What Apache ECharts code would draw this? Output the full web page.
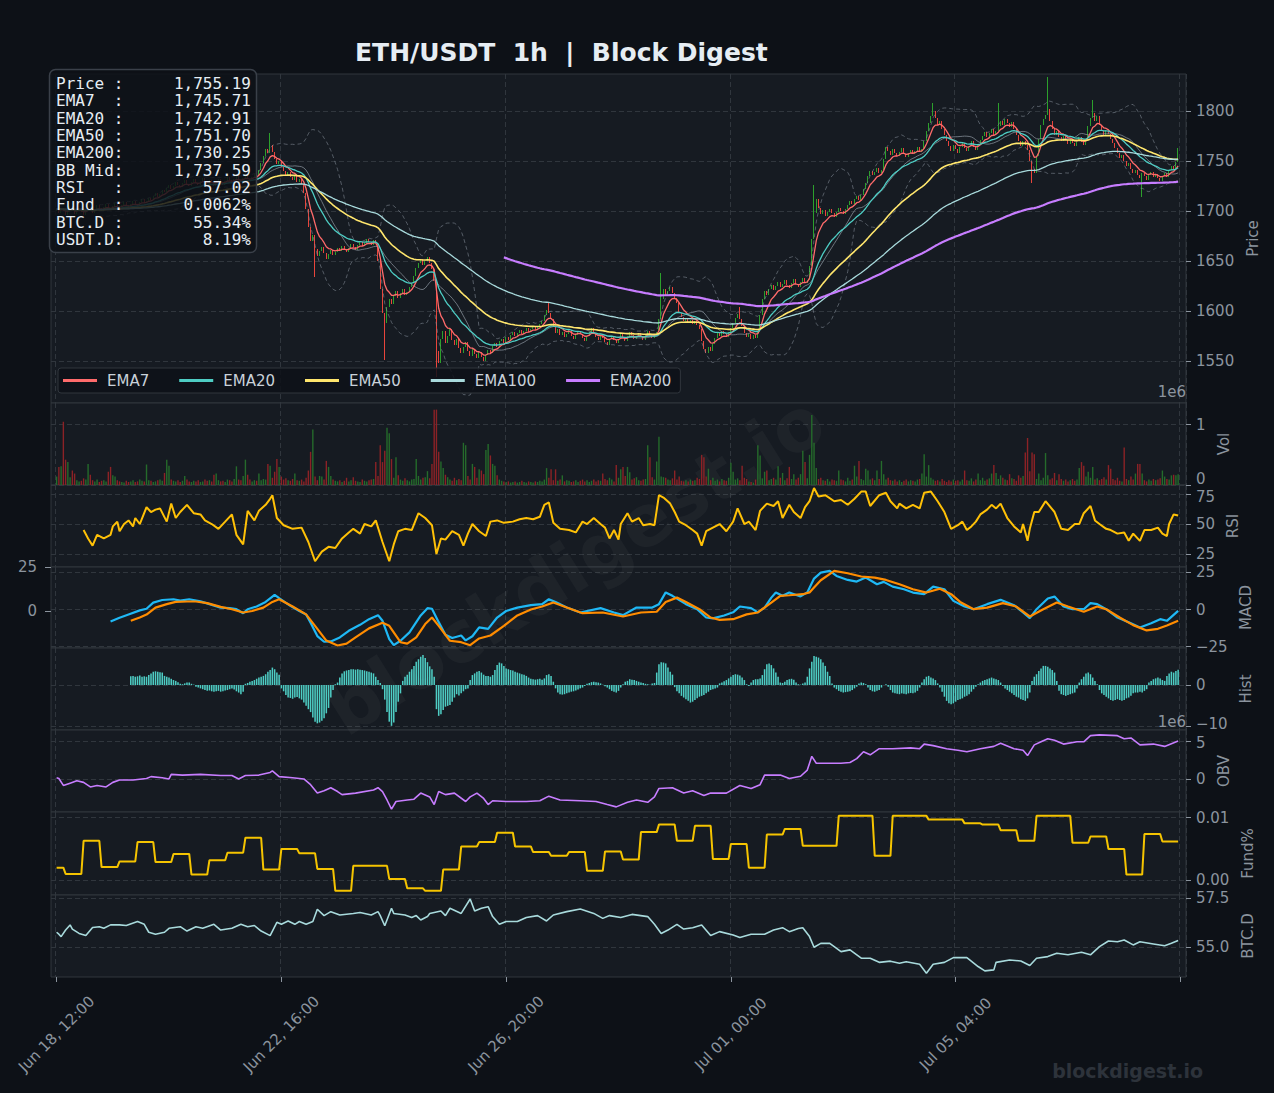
<!DOCTYPE html>
<html>
<head>
<meta charset="utf-8">
<title>ETH/USDT 1h | Block Digest</title>
<script src="https://cdn.jsdelivr.net/npm/echarts@6/dist/echarts.min.js"></script>
<style>
  html, body { margin: 0; padding: 0; background: #0d1117; }
  #chart { width: 1274px; height: 1093px; }
</style>
</head>
<body>
<div id="chart"></div>
<script>
// ---- data (1h candles from Jun 18 12:00, index = hour) ----
var closes = [
  1702,1698,1703,1700,1696,1699,1705,1701,1697,1700,
  1703,1699,1696,1700,1704,1701,1698,1702,1706,1703,
  1700,1704,1707,1703,1701,1705,1708,1704,1702,1706,
  1709,1706,1703,1707,1710,1707,1705,1709,1712,1708,
  1710,1713,1711,1715,1718,1714,1717,1721,1719,1723,
  1726,1722,1725,1729,1726,1724,1728,1731,1727,1725,
  1729,1732,1728,1726,1730,1733,1729,1727,1731,1728,
  1725,1729,1732,1728,1726,1730,1734,1731,1728,1732,
  1735,1731,1729,1733,1736,1732,1730,1734,1737,1735,
  1741,1748,1755,1762,1758,1766,1759,1752,1747,1750,
  1744,1740,1736,1739,1734,1731,1735,1729,1732,1727,
  1718,1702,1684,1670,1676,1662,1655,1660,1664,1658,
  1652,1657,1661,1656,1659,1663,1660,1665,1662,1659,
  1663,1667,1664,1661,1666,1669,1665,1668,1672,1669,
  1666,1671,1668,1650,1622,1598,1588,1604,1612,1607,
  1615,1620,1613,1618,1622,1616,1619,1624,1628,1635,
  1643,1648,1652,1646,1650,1654,1648,1642,1630,1560,
  1548,1572,1580,1568,1575,1582,1571,1566,1572,1563,
  1558,1564,1569,1560,1555,1562,1557,1553,1559,1554,
  1550,1556,1561,1558,1565,1568,1564,1570,1572,1568,
  1574,1571,1576,1579,1575,1578,1581,1577,1580,1583,
  1579,1582,1585,1581,1584,1587,1590,1596,1601,1598,
  1592,1584,1578,1582,1576,1579,1574,1577,1581,1575,
  1572,1576,1580,1577,1573,1570,1575,1579,1583,1578,
  1574,1571,1576,1573,1569,1566,1572,1575,1571,1568,
  1572,1577,1574,1570,1575,1579,1576,1572,1575,1578,
  1574,1571,1576,1580,1577,1573,1576,1579,1592,1612,
  1622,1616,1620,1624,1618,1613,1608,1598,1594,1590,
  1593,1588,1591,1587,1590,1586,1582,1570,1562,1558,
  1564,1560,1567,1573,1578,1575,1580,1577,1574,1579,
  1583,1588,1593,1597,1592,1585,1578,1574,1577,1572,
  1576,1573,1579,1596,1612,1620,1616,1622,1626,1621,
  1625,1629,1624,1627,1631,1626,1623,1628,1632,1627,
  1624,1629,1633,1628,1631,1645,1672,1698,1712,1703,
  1697,1701,1695,1699,1702,1698,1694,1699,1703,1700,
  1697,1702,1706,1710,1707,1712,1715,1711,1716,1722,
  1728,1735,1740,1736,1739,1743,1738,1741,1752,1764,
  1760,1756,1762,1758,1755,1759,1763,1757,1754,1758,
  1761,1757,1760,1764,1759,1762,1770,1780,1788,1795,
  1800,1793,1786,1790,1782,1776,1770,1765,1760,1766,
  1762,1758,1764,1768,1763,1760,1765,1770,1764,1761,
  1766,1771,1775,1779,1774,1778,1782,1776,1780,1785,
  1790,1786,1792,1788,1784,1789,1782,1776,1770,1765,
  1770,1766,1761,1750,1742,1738,1755,1772,1786,1792,
  1796,1802,1790,1782,1776,1780,1774,1770,1775,1771,
  1767,1772,1768,1765,1770,1774,1769,1766,1772,1785,
  1793,1798,1790,1795,1786,1780,1776,1781,1777,1772,
  1768,1763,1758,1753,1756,1750,1745,1748,1742,1738,
  1741,1736,1733,1738,1735,1731,1736,1739,1734,1737,
  1733,1730,1735,1738,1734,1741,1745,1742,1749,1755.19
];
var firstOpen = 1700;
var wickHighs = [[95,1778],[219,1608],[269,1638],[304,1604],[337,1726],[390,1808],[419,1808],[441,1834],[461,1811],[499,1763]];
var wickLows = [[115,1634],[146,1551],[169,1534],[434,1728],[483,1714]];

// volume, units of 10k
var volumes = [
  14,30,31,105,42,38,13,24,19,8,
  6,7,11,9,35,17,8,6,9,5,
  7,8,6,22,30,16,14,8,6,5,
  4,7,5,6,8,5,6,9,7,6,
  34,8,7,5,6,8,9,7,20,42,
  32,9,7,6,8,5,7,15,9,6,
  5,7,6,8,5,6,9,7,8,6,
  17,19,8,6,7,5,9,8,6,10,
  31,9,8,15,42,17,9,6,8,7,
  19,8,10,9,35,32,12,22,43,30,
  14,9,11,8,7,10,19,8,7,9,
  6,12,24,55,92,14,8,15,14,9,
  40,30,15,9,7,6,8,5,7,12,
  6,8,13,7,6,5,9,7,6,8,
  9,10,38,15,66,38,57,95,86,43,
  12,46,16,9,7,11,8,6,9,10,
  43,15,9,12,13,23,11,35,125,125,
  55,39,28,17,13,9,7,12,8,10,
  8,70,66,15,9,35,30,12,26,24,
  18,58,68,49,35,32,16,9,7,6,
  5,6,4,5,6,4,5,7,5,4,
  6,5,4,6,5,7,6,9,28,12,
  26,8,26,7,9,16,6,8,7,5,
  6,8,5,7,9,6,8,5,7,9,
  6,8,7,19,10,8,12,9,6,33,
  12,26,30,15,30,21,9,11,13,8,
  7,9,10,66,46,13,9,39,80,14,
  13,12,9,8,11,24,9,14,7,6,
  8,6,9,7,8,12,10,50,46,14,
  27,8,12,7,9,6,10,8,7,12,
  37,22,9,11,8,32,12,10,6,5,
  4,9,66,49,11,22,24,8,10,12,
  9,31,12,20,8,11,30,10,18,9,
  12,18,57,38,11,50,116,70,28,10,
  12,8,7,10,6,9,8,7,24,9,
  8,6,12,7,9,32,14,40,10,8,
  27,24,9,11,8,24,10,40,18,9,
  12,8,7,9,6,8,5,7,9,6,
  8,7,6,9,10,19,51,14,33,12,
  9,7,8,6,10,7,5,8,6,9,
  7,8,6,9,24,8,7,11,6,9,
  19,8,12,7,9,11,19,33,20,10,
  16,12,9,8,18,11,10,7,16,12,
  15,54,78,23,54,51,10,19,8,12,
  53,16,9,11,20,8,18,10,7,9,
  6,8,10,7,9,28,38,32,14,22,
  12,30,9,11,8,10,13,9,33,27,
  10,8,12,7,6,62,10,8,14,9,
  19,35,35,19,8,6,9,7,10,8,
  9,11,24,14,10,9,16,17,16,18
];

// [hour, value] readings
var rsiPts = [[12,45],[14,38],[16,32],[18,41],[21,38],[24,41],[25,48],[27,52],[28,44],[30,50],[32,53],[34,48],[35,55],[37,50],[40,64],[42,60],[44,62],[46,63],[49,52],[51,67],[53,55],[55,60],[58,66],[61,59],[64,58],[66,53],[69,50],[72,46],[75,52],[78,58],[80,41],[83,33],[85,61],[88,53],[90,61],[93,66],[95,71],[96,74],[98,55],[101,49],[105,46],[109,47],[112,35],[115,19],[118,27],[121,31],[124,30],[127,38],[130,43],[132,46],[135,42],[137,50],[140,48],[142,53],[145,35],[148,19],[150,33],[152,44],[155,46],[158,45],[161,59],[164,55],[167,49],[169,25],[171,38],[173,37],[176,44],[179,41],[181,32],[183,42],[185,50],[188,44],[191,40],[193,52],[196,53],[199,51],[203,52],[206,54],[209,55],[212,54],[215,56],[217,66],[219,68],[221,51],[224,46],[228,45],[231,43],[234,52],[236,50],[239,55],[242,50],[244,47],[246,38],[248,45],[250,37],[251,50],[254,59],[256,52],[259,55],[261,49],[264,50],[266,49],[268,74],[270,72],[273,67],[275,60],[277,52],[280,49],[283,45],[285,42],[287,32],[289,44],[292,47],[295,50],[298,44],[301,52],[303,63],[306,50],[308,52],[311,45],[313,61],[316,67],[319,65],[321,69],[323,55],[326,66],[328,60],[331,55],[333,64],[335,69],[337,80],[339,73],[342,74],[346,69],[349,70],[352,66],[355,71],[358,77],[360,77],[362,65],[366,74],[369,76],[371,69],[374,63],[375,67],[378,63],[381,66],[384,63],[386,76],[389,77],[392,69],[395,60],[398,46],[401,49],[403,52],[405,45],[407,48],[409,52],[411,58],[414,62],[416,66],[418,63],[420,67],[423,55],[426,48],[429,43],[430,50],[432,36],[433,46],[435,60],[437,60],[440,69],[444,60],[447,46],[450,45],[453,50],[455,50],[457,59],[460,65],[462,53],[464,50],[467,46],[469,45],[472,42],[475,43],[477,36],[479,42],[482,36],[484,45],[487,45],[490,47],[492,42],[494,40],[495,50],[497,58],[499,57.02]];

var macdPts = [[24,-8],[28,-5.5],[32,-3.3],[37,-0.6],[40,0.5],[43,4.6],[47,6.4],[52,6.9],[55,6],[59,6.9],[64,5.5],[68,3.6],[73,1.3],[77,0.9],[80,0.2],[83,-2.5],[85,0.2],[89,2],[93,5.1],[97,9.8],[99,7.6],[104,2.5],[108,-1],[111,-3.3],[113,-8.9],[116,-17.9],[119,-21.7],[122,-21.5],[126,-18.8],[130,-14.3],[135,-10.3],[139,-6.5],[143,-3.8],[145,-7.6],[148,-19.9],[150,-24],[153,-21],[157,-15.4],[162,-4],[165,0.9],[167,0.5],[170,-8.5],[173,-17],[176,-19.2],[180,-17.5],[182,-20.8],[185,-18],[188,-12],[192,-13],[196,-5.4],[200,-1],[205,1.3],[211,2.9],[216,3.6],[219,6.9],[222,5.1],[227,1.3],[233,-2],[242,0.9],[248,-2],[252,-3.8],[258,1.3],[265,1.3],[268,3.6],[271,11.5],[274,9.2],[280,3.6],[285,0.2],[289,-5.4],[292,-6],[297,-4],[301,-1.9],[304,2],[309,0.9],[312,-1.9],[315,1.3],[318,8],[320,11.5],[323,9.2],[326,11.5],[331,8.8],[334,11.5],[337,20.8],[340,24.8],[344,26],[347,22.6],[352,19.9],[356,18.8],[360,21.5],[365,17],[368,18.6],[372,15.4],[377,13.6],[381,11.4],[386,10.3],[390,15.4],[395,13.6],[399,5.8],[404,2],[408,0.2],[414,3.6],[420,6.5],[426,2.9],[430,-2],[433,-5.8],[436,0.2],[441,7.4],[444,8.7],[448,2],[452,0.2],[457,0.2],[460,4.3],[463,3.6],[467,0.2],[472,-5.4],[478,-9.2],[482,-12.1],[487,-9.2],[491,-6.5],[494,-7.6],[499,-0.9]];

var signalPts = [[33,-7.6],[37,-5.4],[40,-3.4],[44,1.3],[49,3.6],[53,5.1],[58,5.4],[62,5.4],[67,4.3],[73,1.8],[78,0.2],[83,-2],[87,-1],[92,1.3],[96,5.1],[99,6.9],[105,2],[111,-3.3],[116,-13],[120,-20.9],[125,-24.2],[129,-23],[133,-18.8],[139,-12.7],[145,-8.9],[148,-11],[153,-22],[156,-23],[160,-18.8],[164,-9.8],[167,-5.4],[170,-11],[175,-21],[180,-22],[184,-24],[188,-19.5],[193,-17.5],[199,-11],[205,-4],[211,0],[216,2],[221,4.7],[227,1.3],[234,-2.5],[243,-2],[252,-4.7],[260,-2],[267,-1.5],[271,5.1],[276,8],[280,5.1],[286,0.2],[291,-5.4],[295,-7],[301,-6.5],[307,-3.3],[312,-2],[318,4.7],[322,9.2],[326,9.6],[332,10.3],[335,11.5],[337,14.8],[340,19.7],[346,26],[352,24.4],[358,22.2],[364,21.5],[369,19.9],[375,17],[381,13.6],[387,11.4],[393,14],[398,10.3],[402,5.1],[408,0.2],[414,1.3],[421,4.3],[427,2],[433,-4.7],[439,0.2],[445,4.7],[450,2],[457,-1.5],[463,2],[467,0.2],[473,-5.4],[479,-10.5],[485,-14.1],[490,-13],[494,-10.8],[499,-7.6]];

// MACD histogram, hourly from hour 33
var histStart = 33;
var hist = [
  2.1,2.2,2.0,2.1,2.3,2.0,2.1,
  2.0,2.4,2.8,3.2,3.3,3.2,3.1,3.0,2.2,2.0,
  1.8,1.5,1.2,1.0,0.7,0.3,0.2,0.4,0.6,0.6,
  0.3,0.1,-0.4,-0.6,-0.8,-1.0,-1.2,-1.4,-1.3,-1.5,
  -1.6,-1.5,-1.4,-1.6,-1.5,-1.3,-1.2,-1.0,-0.8,-1.1,
  -1.5,-1.8,-2.2,-1.6,0.3,0.5,0.8,1.0,1.2,1.5,
  1.8,2.0,2.2,2.6,3.2,3.6,4.2,3.8,3.0,2.5,
  -0.8,-1.5,-2.4,-3.0,-3.1,-3.3,-3.0,-2.9,-3.2,-3.5,
  -4.2,-5.0,-5.8,-6.5,-7.8,-8.8,-9.2,-9.0,-8.6,-8.0,
  -6.8,-5.5,-3.0,-1.2,0.2,0.6,1.8,2.8,3.3,3.5,
  3.6,3.8,3.8,3.7,3.8,3.7,3.6,3.5,3.3,3.2,
  3.0,2.8,2.0,1.2,0.5,-1.0,-3.5,-6.5,-8.8,-9.8,
  -9.0,-6.5,-4.0,-2.0,1.0,2.0,2.5,3.2,3.8,4.6,
  5.6,6.2,6.8,7.2,6.5,5.5,4.5,3.8,2.0,-5.8,
  -7.4,-7.0,-6.0,-5.2,-5.0,-4.8,-4.0,-3.0,-2.2,-2.5,
  -2.0,-1.5,-1.0,-0.8,1.2,2.4,2.8,3.2,3.4,3.0,
  2.5,2.2,2.2,2.0,2.4,3.6,4.8,5.4,5.2,4.6,
  4.0,3.8,3.6,3.5,3.2,3.0,2.8,2.6,2.5,2.2,
  1.8,1.5,1.4,1.3,1.4,1.5,1.3,1.6,2.4,2.6,
  2.2,0.8,-0.8,-1.8,-2.2,-2.3,-2.2,-2.0,-1.8,-1.6,
  -1.5,-1.3,-1.1,-0.8,-0.6,-0.2,0.3,0.5,0.7,0.8,
  0.7,0.6,0.4,0.1,-0.3,-0.6,-1.0,-1.4,-1.6,-1.8,
  -1.4,-0.6,0.2,0.8,1.0,1.4,1.3,1.2,1.0,0.8,
  0.6,0.5,0.3,0.2,0.1,0.4,0.5,3.0,5.0,5.5,
  5.4,5.2,4.2,3.2,2.5,-0.5,-1.5,-2.0,-2.6,-3.0,
  -3.4,-3.8,-4.2,-4.0,-3.6,-3.2,-2.8,-2.6,-2.4,-2.0,
  -1.6,-1.2,-1.0,-0.8,-0.6,0.4,0.6,0.9,1.2,1.6,
  2.0,2.4,2.6,2.5,2.3,1.8,1.2,0.2,-0.2,0.6,
  1.2,1.4,1.4,1.6,2.4,3.8,5.0,5.2,4.8,4.0,
  3.0,2.0,0.6,0.5,0.8,1.2,1.4,1.5,1.3,0.6,
  0.2,0.1,0.4,0.6,2.0,4.0,5.6,7.0,6.8,6.6,
  6.2,5.4,4.6,3.2,2.2,0.4,-0.6,-1.0,-1.4,-1.6,
  -1.8,-1.7,-1.6,-1.5,-1.2,-0.8,-0.4,0.4,0.6,0.5,
  0.2,-0.6,-1.2,-1.5,-1.6,-1.4,-1.2,-0.6,0.0,0.2,
  -0.4,-1.2,-1.8,-2.0,-2.1,-2.2,-2.0,-2.1,-2.2,-2.0,
  -1.9,-2.0,-1.8,-1.4,-0.6,0.6,1.4,2.0,2.2,1.8,
  1.6,1.2,0.4,-0.6,-1.6,-2.8,-3.8,-4.4,-4.6,-4.4,
  -4.0,-3.6,-3.4,-3.2,-2.8,-2.6,-2.2,-1.6,-1.0,-0.4,
  0.2,0.6,1.0,1.2,1.4,1.6,1.8,1.6,1.4,1.2,
  0.6,-0.2,-0.8,-1.2,-1.6,-2.0,-2.4,-2.8,-3.0,-3.4,
  -3.6,-3.8,-3.2,-1.8,1.0,2.0,2.6,3.4,4.0,4.6,
  4.6,4.4,4.0,3.6,3.0,1.0,-1.4,-2.2,-2.4,-2.6,
  -2.4,-2.2,-2.0,-1.8,-0.8,0.6,1.4,2.0,2.8,3.0,
  2.6,1.8,1.0,0.2,-1.2,-2.0,-2.4,-2.8,-3.2,-3.6,
  -3.8,-3.6,-3.4,-3.6,-3.8,-3.6,-3.2,-3.0,-2.6,-2.0,
  -1.8,-1.8,-1.6,-1.8,-1.4,-1.0,0.6,1.0,1.4,1.6,
  1.8,1.6,1.2,1.0,2.2,2.8,3.2,3.0,3.4,3.7
];

// OBV in millions
var obvPts = [[0,0.2],[1,0.1],[3,-0.8],[6,-0.5],[9,-0.2],[12,-0.4],[15,-1],[18,-0.8],[22,-1],[25,-0.4],[28,-0.1],[34,-0.1],[40,0.1],[42,0.35],[47,0.2],[50,0.05],[51,0.65],[56,0.55],[64,0.65],[73,0.5],[78,0.5],[81,0.05],[84,0.5],[90,0.55],[95,0.9],[96,1.1],[99,0.35],[105,0.2],[110,0.05],[113,-0.7],[116,-1.8],[119,-1.5],[122,-1.1],[125,-1.6],[127,-2],[133,-1.8],[141,-1.4],[143,-1.1],[145,-1.6],[147,-2.7],[149,-3.9],[151,-2.9],[156,-2.7],[159,-2.6],[162,-1.8],[166,-2.3],[168,-3.3],[170,-1.6],[173,-2],[177,-1.8],[182,-2.9],[184,-2.3],[187,-1.8],[190,-2.5],[192,-3.3],[194,-2.8],[200,-2.9],[209,-2.9],[215,-2.8],[219,-2.2],[224,-2.7],[233,-2.8],[240,-2.9],[245,-3.3],[249,-3.6],[254,-3],[258,-2.7],[263,-3],[266,-2.3],[268,-1.2],[274,-1.1],[279,-1.8],[283,-1.5],[288,-2.1],[291,-1.8],[298,-1.8],[304,-0.8],[309,-1.2],[313,-0.7],[315,0.55],[322,0.55],[326,0.1],[331,0.4],[334,1.2],[336,3],[338,2.1],[343,2.1],[349,2.1],[353,2.2],[356,2.7],[359,3.6],[362,3.2],[366,4],[372,4],[380,4.1],[384,4],[386,4.6],[390,4.4],[396,4],[401,3.8],[405,3.6],[411,4],[417,4.3],[420,4.7],[426,4],[430,3.8],[432,3.1],[435,4.5],[438,4.9],[441,5.3],[444,5.1],[448,4.6],[454,4.9],[457,4.9],[460,5.7],[464,5.8],[472,5.7],[475,5.3],[478,5.4],[482,4.5],[488,4.6],[493,4.3],[499,5]];

// funding rate (%), [start hour, value] steps
var fundSteps = [[0,0.0020],[4,0.0010],[12,0.0063],[20,0.0021],[28,0.0030],[36,0.0061],[44,0.0029],[52,0.0042],[60,0.0009],[68,0.0032],[76,0.0044],[84,0.0068],[92,0.0017],[100,0.0050],[108,0.0043],[116,0.0018],[124,-0.0017],[132,0.0023],[148,0.0002],[156,-0.0013],[164,-0.0017],[172,0.0017],[180,0.0054],[188,0.0061],[196,0.0076],[204,0.0054],[212,0.0045],[220,0.0039],[228,0.0045],[236,0.0015],[244,0.0046],[252,0.0033],[260,0.0077],[268,0.0089],[276,0.0063],[284,0.0087],[292,0.0034],[300,0.0058],[308,0.0020],[316,0.0073],[324,0.0082],[332,0.0055],[348,0.0103],[364,0.0039],[372,0.0103],[388,0.0097],[404,0.0091],[412,0.0089],[420,0.0080],[428,0.0063],[436,0.0103],[452,0.0060],[460,0.0070],[468,0.0050],[476,0.0009],[484,0.0074],[492,0.0062]];

var btcPts = [[0,55.76],[1,55.66],[2,55.54],[4,55.87],[6,56.13],[7,55.92],[10,55.7],[13,55.59],[16,56],[19,56.04],[21,55.96],[24,56.13],[28,56.13],[31,56.1],[36,56.3],[39,56.16],[41,55.76],[44,55.66],[48,55.76],[50,55.96],[55,56.04],[58,55.82],[62,56.04],[65,55.96],[70,56.16],[73,55.87],[78,55.96],[82,56.16],[85,56.04],[88,56.1],[91,55.82],[95,55.59],[98,56.26],[100,56.16],[103,56.33],[106,56.16],[108,56.3],[111,56.16],[114,56.3],[116,56.92],[119,56.6],[122,56.8],[126,56.63],[132,56.71],[135,56.76],[140,56.63],[143,56.8],[144,56.6],[146,56.09],[149,56.97],[150,56.71],[155,56.63],[158,56.5],[160,56.6],[162,56.38],[165,56.55],[166,56.71],[171,56.83],[173,56.6],[175,56.97],[180,56.71],[184,57.44],[186,56.83],[189,56.97],[192,57.05],[194,56.55],[197,56.16],[200,56.3],[205,56.3],[209,56.5],[214,56.6],[218,56.33],[221,56.63],[227,56.8],[233,56.93],[239,56.71],[243,56.46],[246,56.6],[251,56.5],[256,56.66],[263,56.55],[266,56.16],[269,55.7],[272,55.87],[276,56.16],[279,55.92],[283,55.99],[287,56.13],[291,55.59],[295,55.79],[301,55.62],[304,55.49],[309,55.66],[315,55.66],[319,55.87],[323,55.99],[326,55.79],[330,55.95],[332,55.99],[335,55.54],[337,55.0],[340,55.2],[344,55.2],[349,54.78],[353,54.87],[358,54.45],[362,54.45],[366,54.24],[371,54.3],[375,54.19],[378,54.27],[384,54.14],[387,53.69],[390,54.14],[395,54.24],[399,54.48],[405,54.48],[410,54.03],[413,53.81],[417,53.86],[418,54.24],[424,54.36],[429,54.31],[433,54.08],[436,54.45],[441,54.53],[445,54.7],[450,54.62],[456,54.75],[460,54.62],[464,55.03],[468,55.32],[472,55.28],[475,55.37],[479,55.12],[482,55.28],[488,55.17],[493,55.08],[496,55.2],[499,55.34]];

var infoRows = [
  ['Price :', '1,755.19'], ['EMA7  :', '1,745.71'], ['EMA20 :', '1,742.91'],
  ['EMA50 :', '1,751.70'], ['EMA200:', '1,730.25'], ['BB Mid:', '1,737.59'],
  ['RSI   :', '57.02'], ['Fund  :', '0.0062%'], ['BTC.D :', '55.34%'], ['USDT.D:', '8.19%']
];

var xTickHours = [0, 100, 200, 300, 400, 500];
var xLabelHours = [0, 100, 200, 300, 400];
var priceTicks = [1550, 1600, 1650, 1700, 1750, 1800];
var volTicks = [0, 100];
var rsiTicks = [25, 50, 75];
var macdTicks = [-25, 0, 25];
var macdLeftTicks = [0, 25];
var histTicks = [-10, 0];
var obvTicks = [0, 5];
var fundTicks = [0, 0.01];
var btcTicks = [55, 57.5];

// ---- layout ----
var PAD = 2, NCAT = 505;
var FONT = 'DejaVu Sans';
var GRID_COLOR = '#30363d';
var TXT = '#8b949e';
var UP = '#2ca02c', DOWN = '#e8453c';
var UP_VOL = '#256b2b', DOWN_VOL = '#8c2226';
var emaDefs = [
  { name: 'EMA7', n: 7, color: '#ff6b6b', width: 1.3 },
  { name: 'EMA20', n: 20, color: '#4ecdc4', width: 1.3 },
  { name: 'EMA50', n: 50, color: '#ffe66d', width: 1.6 },
  { name: 'EMA100', n: 100, color: '#a8dadc', width: 1.3 },
  { name: 'EMA200', n: 200, color: '#c77dff', width: 2.2 }
];

var months = ['Jan','Feb','Mar','Apr','May','Jun','Jul','Aug','Sep','Oct','Nov','Dec'];
function pad2(n) { return (n < 10 ? '0' : '') + n; }
var t0 = Date.UTC(2023, 5, 18, 12);
var categories = [];
for (var i = 0; i < NCAT; i++) {
  var d = new Date(t0 + (i - PAD) * 3600000);
  categories.push(months[d.getUTCMonth()] + ' ' + pad2(d.getUTCDate()) + ', ' + pad2(d.getUTCHours()) + ':00');
}
function xi(h) { return h + PAD; }

// candles
var opens = closes.map(function (c, h) { return h === 0 ? firstOpen : closes[h - 1]; });
var candleData = closes.map(function (c, h) {
  var o = opens[h];
  var hi = Math.max(o, c), lo = Math.min(o, c);
  wickHighs.forEach(function (w) { if (w[0] === h) hi = Math.max(hi, w[1]); });
  wickLows.forEach(function (w) { if (w[0] === h) lo = Math.min(lo, w[1]); });
  return [xi(h), o, c, lo, hi];
});

function ema(src, n) {
  var k = 2 / (n + 1), out = [], prev = src[0];
  for (var i = 0; i < src.length; i++) {
    prev = i === 0 ? src[0] : src[i] * k + prev * (1 - k);
    out.push(prev);
  }
  return out;
}
var bbMid = [], bbUp = [], bbLo = [];
for (var h = 19; h < closes.length; h++) {
  var win = closes.slice(h - 19, h + 1);
  var m = win.reduce(function (a, b) { return a + b; }, 0) / 20;
  var v = win.reduce(function (a, b) { return a + (b - m) * (b - m); }, 0) / 19;
  var s = Math.sqrt(v);
  bbMid.push([xi(h), m]); bbUp.push([xi(h), m + 2 * s]); bbLo.push([xi(h), m - 2 * s]);
}

function pts(arr) { return arr.map(function (p) { return [xi(p[0]), p[1]]; }); }

var fundData = [];
fundSteps.forEach(function (st, k) {
  var end = k + 1 < fundSteps.length ? fundSteps[k + 1][0] - 1 : closes.length - 1;
  fundData.push([xi(st[0]), st[1]]);
  fundData.push([xi(end), st[1]]);
});

var volData = volumes.map(function (v, h) {
  return { value: [xi(h), v], itemStyle: { color: closes[h] >= opens[h] ? UP_VOL : DOWN_VOL } };
});
var histData = hist.map(function (v, k) { return [xi(histStart + k), v]; });

// ---- axes ----
var gridsPx = [[74, 329], [403, 82], [485, 82], [567, 81], [648, 82], [730, 82], [812, 83], [895, 82]];
var grids = gridsPx.map(function (g) {
  return { left: 51, right: 88, top: g[0], height: g[1], show: true, backgroundColor: '#161b22', borderColor: GRID_COLOR, borderWidth: 1 };
});
function isTick(i) { return xTickHours.indexOf(i - PAD) >= 0; }
function isLabel(i) { return xLabelHours.indexOf(i - PAD) >= 0; }
var xAxes = gridsPx.map(function (g, k) {
  var last = k === gridsPx.length - 1;
  return {
    type: 'category', gridIndex: k, data: categories, boundaryGap: true,
    axisLine: { show: false },
    axisTick: { show: last, alignWithLabel: true, interval: function (i) { return isTick(i); }, length: 5, lineStyle: { color: TXT } },
    axisLabel: {
      show: last, interval: function (i) { return isLabel(i); }, rotate: 45, align: 'center', verticalAlign: 'middle',
      margin: 57, color: TXT, fontSize: 15, fontFamily: FONT
    },
    splitLine: { show: true, interval: function (i) { return isTick(i); }, lineStyle: { color: GRID_COLOR, type: [5, 3] } }
  };
});
function minus(v) { return v < 0 ? '\u2212' + Math.abs(v) : String(v); }
// labels that sit on a panel seam get nudged apart a few pixels
function nudgeRich(padTop, padBottom) {
  return { color: TXT, fontSize: 15, fontFamily: FONT, padding: [padTop, 0, padBottom, 0] };
}
var ySpecs = [
  { name: 'Price', min: 1508, max: 1837, step: 50, ticks: priceTicks, gap: 59, fmt: function (v) { return String(v); } },
  { name: 'Vol', min: 0, max: 136, step: 100, ticks: volTicks, gap: 28,
    fmt: function (v) { return v === 0 ? '{n|0}' : String(v / 100); }, rich: { n: nudgeRich(0, 12) } },
  { name: 'RSI', min: 14.2, max: 82.5, step: 25, ticks: rsiTicks, gap: 38,
    fmt: function (v) { return v === 75 ? '{n|75}' : minus(v); }, rich: { n: nudgeRich(5, 0) } },
  { name: 'MACD', min: -25.9, max: 28.6, step: 25, ticks: macdTicks, gap: 52, fmt: minus },
  { name: 'Hist', min: -10.8, max: 8.9, step: 10, ticks: histTicks, gap: 52,
    fmt: function (v) { return v === -10 ? '{n|\u221210}' : minus(v); }, rich: { n: nudgeRich(0, 5) } },
  { name: 'OBV', min: -4.27, max: 6.44, step: 5, ticks: obvTicks, gap: 28,
    fmt: function (v) { return v === 5 ? '{n|5}' : minus(v); }, rich: { n: nudgeRich(3, 0) } },
  { name: 'Fund%', min: -0.00237, max: 0.01092, step: 0.01, ticks: fundTicks, gap: 54, fmt: function (v) { return v.toFixed(2); } },
  { name: 'BTC.D', min: 53.5, max: 57.64, step: 2.5, ticks: btcTicks, gap: 54, fmt: function (v) { return v.toFixed(1); } }
];
var yAxes = ySpecs.map(function (s, k) {
  var label = { color: TXT, fontSize: 15, fontFamily: FONT, margin: 10, customValues: s.ticks, formatter: s.fmt };
  if (s.rich) label.rich = s.rich;
  return {
    type: 'value', gridIndex: k, position: 'right', min: s.min, max: s.max,
    minInterval: s.step, maxInterval: s.step, scale: true,
    name: s.name, nameLocation: 'middle', nameRotate: 90, nameGap: s.gap,
    nameTextStyle: { color: TXT, fontSize: 15, fontFamily: FONT },
    axisLine: { show: false },
    axisTick: { show: true, length: 5, customValues: s.ticks, lineStyle: { color: TXT } },
    axisLabel: label,
    splitLine: { show: true, lineStyle: { color: GRID_COLOR, type: [5, 3] } }
  };
});
yAxes.push({
  type: 'value', gridIndex: 3, position: 'left', min: -20.85, max: 25.2, minInterval: 25, maxInterval: 25,
  axisLine: { show: false },
  axisTick: { show: true, length: 6, customValues: macdLeftTicks, lineStyle: { color: TXT } },
  axisLabel: { color: TXT, fontSize: 15, fontFamily: FONT, margin: 14, customValues: macdLeftTicks },
  splitLine: { show: false }
});

// ---- series ----
var series = [{
  type: 'candlestick', xAxisIndex: 0, yAxisIndex: 0, data: candleData,
  encode: { x: 0, y: [1, 2, 3, 4] }, barWidth: 1.2,
  itemStyle: { color: UP, color0: DOWN, borderColor: UP, borderColor0: DOWN, borderWidth: 1 }
}];
function lineSeries(name, data, color, width, xa, extra) {
  var o = { type: 'line', name: name, xAxisIndex: xa, yAxisIndex: xa, data: data, showSymbol: false, symbol: 'none',
    lineStyle: { color: color, width: width }, itemStyle: { color: color } };
  if (extra) for (var key in extra) o[key] = extra[key];
  return o;
}
series.push(lineSeries('BB Mid', bbMid, 'rgba(139,148,158,0.75)', 1, 0));
series.push(lineSeries('BB Up', bbUp, 'rgba(139,148,158,0.55)', 1, 0, { lineStyle: { color: 'rgba(139,148,158,0.55)', width: 1, type: [4, 3] } }));
series.push(lineSeries('BB Low', bbLo, 'rgba(139,148,158,0.55)', 1, 0, { lineStyle: { color: 'rgba(139,148,158,0.55)', width: 1, type: [4, 3] } }));
emaDefs.forEach(function (e) {
  var vals = ema(closes, e.n);
  var data = [];
  vals.forEach(function (v, h) { if (e.n < 200 || h >= 199) data.push([xi(h), v]); });
  series.push(lineSeries(e.name, data, e.color, e.width, 0));
});
series.push({ type: 'bar', name: 'Vol', xAxisIndex: 1, yAxisIndex: 1, data: volData, barWidth: '62%' });
series.push(lineSeries('RSI', pts(rsiPts), '#ffc107', 2, 2));
series.push(lineSeries('MACD', pts(macdPts), '#1fb8f5', 2.2, 3));
series.push(lineSeries('Signal', pts(signalPts), '#ff8c00', 2.2, 3));
series.push({ type: 'bar', name: 'Hist', xAxisIndex: 4, yAxisIndex: 4, data: histData, barWidth: '68%', itemStyle: { color: '#4ecdc4' } });
series.push(lineSeries('OBV', pts(obvPts), '#c77dff', 1.6, 5));
series.push(lineSeries('Fund', fundData, '#f5c400', 2, 6));
series.push(lineSeries('BTC.D', pts(btcPts), '#a8dadc', 1.6, 7));

// ---- overlay graphics ----
var graphics = [
  { type: 'text', z: 1, silent: true, x: 575, y: 565, rotation: 0.56,
    style: { text: 'blockdigest.io', fill: 'rgba(255,255,255,0.035)', font: 'bold 72px ' + FONT, textAlign: 'center', textVerticalAlign: 'middle' } },
  { type: 'text', z: 10, x: 1203, y: 1071, style: { text: 'blockdigest.io', fill: '#2d333b', font: 'bold 19px ' + FONT, textAlign: 'right', textVerticalAlign: 'middle' } },
  { type: 'text', z: 10, x: 1186, y: 392, style: { text: '1e6', fill: TXT, font: '15px ' + FONT, textAlign: 'right', textVerticalAlign: 'middle' } },
  { type: 'text', z: 10, x: 1186, y: 722, style: { text: '1e6', fill: TXT, font: '15px ' + FONT, textAlign: 'right', textVerticalAlign: 'middle' } },
  { type: 'rect', z: 20, shape: { x: 49.5, y: 69.5, width: 207, height: 183, r: 6 },
    style: { fill: 'rgba(13,17,23,0.84)', stroke: '#3a4049', lineWidth: 1.5 } }
];
infoRows.forEach(function (r, k) {
  var y = 83.5 + k * 17.33;
  graphics.push({ type: 'text', z: 21, x: 56, y: y, style: { text: r[0].replace(/ /g, '\u00a0'), fill: '#e6edf3', font: '16px "DejaVu Sans Mono"', textAlign: 'left', textVerticalAlign: 'middle' } });
  graphics.push({ type: 'text', z: 21, x: 251, y: y, style: { text: r[1], fill: '#e6edf3', font: '16px "DejaVu Sans Mono"', textAlign: 'right', textVerticalAlign: 'middle' } });
});

var chart = echarts.init(document.getElementById('chart'), null, { renderer: 'svg', width: 1274, height: 1093 });
chart.setOption({
  backgroundColor: '#0d1117',
  animation: false,
  title: {
    text: 'ETH/USDT\u00a0\u00a01h\u00a0\u00a0|\u00a0\u00a0Block Digest', left: 355, top: 40, padding: 0,
    textStyle: { color: '#e6edf3', fontSize: 25, fontWeight: 'bold', fontFamily: FONT }
  },
  legend: {
    data: emaDefs.map(function (e) { return e.name; }),
    left: 58, top: 368, orient: 'horizontal', icon: 'rect', itemWidth: 34, itemHeight: 3, itemGap: 30,
    padding: [5, 9, 5, 5], backgroundColor: 'rgba(13,17,23,0.85)', borderColor: GRID_COLOR, borderWidth: 1, borderRadius: 3,
    selectedMode: false,
    textStyle: { color: '#c9d1d9', fontSize: 15, fontFamily: FONT, padding: [0, 0, 0, 5] }
  },
  grid: grids,
  xAxis: xAxes,
  yAxis: yAxes,
  series: series,
  graphic: graphics
});
window.onresize = function () { chart.resize(); };
</script>
</body>
</html>
